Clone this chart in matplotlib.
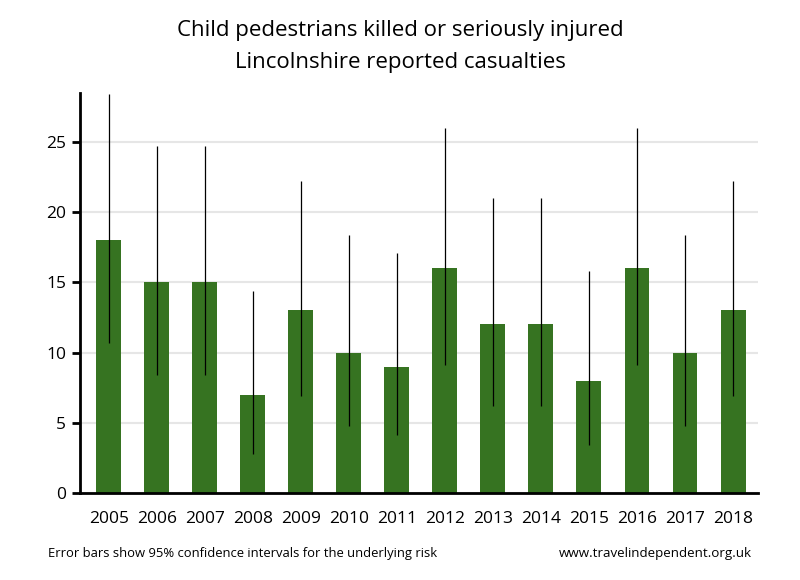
import matplotlib
matplotlib.use("Agg")
from matplotlib import pyplot as plt

plt.rcParams['font.family'] = ['Open Sans', 'DejaVu Sans']

years = ['2005', '2006', '2007', '2008', '2009', '2010', '2011',
         '2012', '2013', '2014', '2015', '2016', '2017', '2018']
casualties = [18, 15, 15, 7, 13, 10, 9, 16, 12, 12, 8, 16, 10, 13]
ci_low = [10.7, 8.4, 8.4, 2.8, 6.9, 4.8, 4.1, 9.1, 6.2, 6.2, 3.4, 9.1, 4.8, 6.9]
ci_high = [28.4, 24.7, 24.7, 14.4, 22.2, 18.4, 17.1, 26.0, 21.0, 21.0, 15.8, 26.0, 18.4, 22.2]

x = list(range(len(years)))
err_lo = [c - lo for c, lo in zip(casualties, ci_low)]
err_hi = [hi - c for c, hi in zip(casualties, ci_high)]

fig = plt.figure(figsize=(8, 5.8), dpi=100)
ax = fig.add_axes([0.1, 0.15, 0.8475, 0.69])

ax.bar(x, casualties, width=0.52, color='#367321', zorder=2)
ax.errorbar(x, casualties, yerr=[err_lo, err_hi], fmt='none',
            ecolor='black', elinewidth=0.9, capsize=0, zorder=3)

ax.set_xlim(-0.6, 13.52)
ax.set_ylim(0, 28.5)
ax.set_yticks([0, 5, 10, 15, 20, 25])
ax.set_xticks(x)
ax.set_xticklabels(years)
ax.tick_params(axis='x', length=0, pad=13, labelsize=12.5)
ax.tick_params(axis='y', length=6, width=2, labelsize=12.5, pad=4)
ax.yaxis.grid(True, color='#e6e6e6', linewidth=1.5, zorder=0)
ax.set_axisbelow(True)

for side in ['top', 'right']:
    ax.spines[side].set_visible(False)
for side in ['left', 'bottom']:
    ax.spines[side].set_linewidth(2)

fig.text(0.5, 0.948, 'Child pedestrians killed or seriously injured',
         ha='center', va='center', fontsize=16)
fig.text(0.5, 0.893, 'Lincolnshire reported casualties',
         ha='center', va='center', fontsize=16)
fig.text(0.06, 0.045, 'Error bars show 95% confidence intervals for the underlying risk',
         ha='left', va='center', fontsize=9.4)
fig.text(0.94, 0.045, 'www.travelindependent.org.uk',
         ha='right', va='center', fontsize=9.6)

fig.savefig('out.png', dpi=100)
